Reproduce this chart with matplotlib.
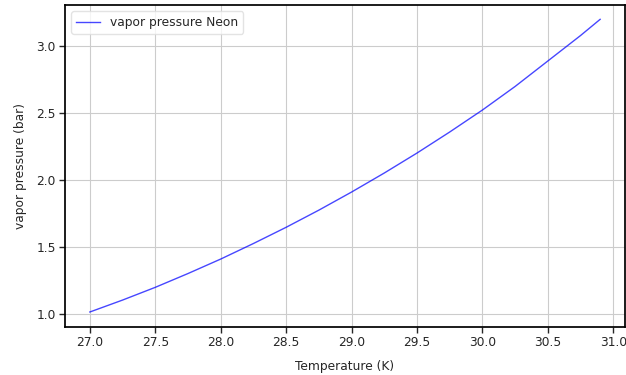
import matplotlib
matplotlib.use("Agg")
import matplotlib.pyplot as plt

temperature = [27.0, 27.25, 27.5, 27.75, 28.0, 28.25, 28.5, 28.75, 29.0,
               29.25, 29.5, 29.75, 30.0, 30.25, 30.5, 30.75, 30.9]
pressure = [1.015, 1.104, 1.199, 1.302, 1.410, 1.526, 1.647, 1.775, 1.910,
            2.052, 2.201, 2.358, 2.522, 2.698, 2.888, 3.078, 3.199]
xticks = [27.0, 27.5, 28.0, 28.5, 29.0, 29.5, 30.0, 30.5, 31.0]
yticks = [1.0, 1.5, 2.0, 2.5, 3.0]

plt.rcParams['font.family'] = ['DejaVu Sans']
fig = plt.figure(figsize=(6.26, 3.75), dpi=100)
ax = fig.add_axes([65/626, 1 - 327/375, 560/626, 322/375])

ax.plot(temperature, pressure, color='blue', lw=1.0, alpha=0.72, label='vapor pressure Neon')
ax.set_xlim(26.81, 31.09)
ax.set_ylim(0.903, 3.306)
ax.set_xticks(xticks)
ax.set_yticks(yticks)
ax.set_xticklabels([f"{t:.1f}" for t in xticks])
ax.set_yticklabels([f"{t:.1f}" for t in yticks])
ax.grid(True, color='#cccccc', lw=0.8)
ax.tick_params(labelsize=8.8, colors='#262626', length=4, width=1, direction='out', pad=2.5)
for s in ax.spines.values():
    s.set_linewidth(1.25)
    s.set_color('black')
ax.set_xlabel('Temperature (K)', fontsize=8.8, color='#262626', labelpad=8)
ax.set_ylabel('vapor pressure (bar)', fontsize=8.8, color='#262626', labelpad=7)
leg = ax.legend(loc='upper left', fontsize=8.8, framealpha=0.8, edgecolor='#dddddd')
for t in leg.get_texts():
    t.set_color('#262626')

fig.savefig('out.png', dpi=100)
